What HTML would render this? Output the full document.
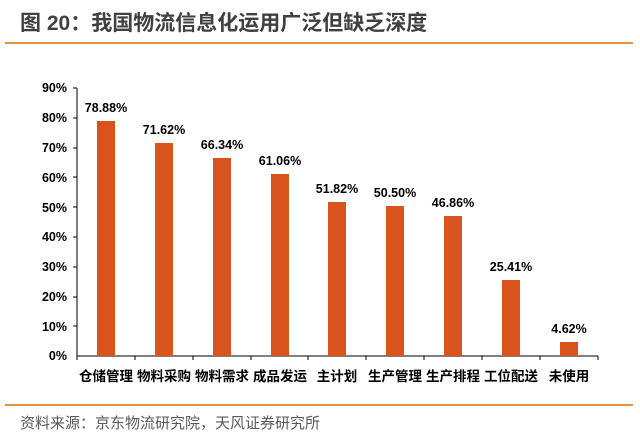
<!DOCTYPE html>
<html><head><meta charset="utf-8"><style>
body{margin:0;background:#fff;width:640px;height:442px;overflow:hidden;font-family:"Liberation Sans","Noto Sans CJK SC",sans-serif}
</style></head><body>
<svg width="640" height="442" xmlns="http://www.w3.org/2000/svg" font-family="Liberation Sans, Noto Sans CJK SC, sans-serif">
<text x="20" y="30" font-size="21" font-weight="bold" fill="#404040">图 20：我国物流信息化运用广泛但缺乏深度</text>
<line x1="5" y1="43" x2="633" y2="43" stroke="#E8913A" stroke-width="2"/>
<g font-size="12.5" font-weight="bold" fill="#000" text-anchor="end">
<text x="67" y="360">0%</text><text x="67" y="331">10%</text><text x="67" y="301">20%</text>
<text x="67" y="271">30%</text><text x="67" y="241">40%</text><text x="67" y="212">50%</text>
<text x="67" y="182">60%</text><text x="67" y="152">70%</text><text x="67" y="122">80%</text><text x="67" y="92">90%</text>
</g>
<g stroke="#000" stroke-width="1">
<line x1="77" y1="88" x2="77" y2="356"/>
<line x1="77" y1="356" x2="598" y2="356"/>
<line x1="73" y1="88" x2="77" y2="88"/><line x1="73" y1="118" x2="77" y2="118"/><line x1="73" y1="148" x2="77" y2="148"/>
<line x1="73" y1="177" x2="77" y2="177"/><line x1="73" y1="207" x2="77" y2="207"/><line x1="73" y1="237" x2="77" y2="237"/>
<line x1="73" y1="267" x2="77" y2="267"/><line x1="73" y1="297" x2="77" y2="297"/><line x1="73" y1="326" x2="77" y2="326"/>
<line x1="77" y1="356" x2="77" y2="360"/><line x1="135" y1="356" x2="135" y2="360"/><line x1="193" y1="356" x2="193" y2="360"/>
<line x1="251" y1="356" x2="251" y2="360"/><line x1="308" y1="356" x2="308" y2="360"/><line x1="366" y1="356" x2="366" y2="360"/>
<line x1="424" y1="356" x2="424" y2="360"/><line x1="482" y1="356" x2="482" y2="360"/><line x1="540" y1="356" x2="540" y2="360"/>
<line x1="598" y1="356" x2="598" y2="360"/>
</g>
<g fill="#D9531E">
<rect x="97" y="121" width="18" height="235"/>
<rect x="155" y="143" width="18" height="213"/>
<rect x="213" y="158" width="18" height="198"/>
<rect x="271" y="174" width="18" height="182"/>
<rect x="328" y="202" width="18" height="154"/>
<rect x="386" y="206" width="18" height="150"/>
<rect x="444" y="216" width="18" height="140"/>
<rect x="502" y="280" width="18" height="76"/>
<rect x="560" y="342" width="18" height="14"/>
</g>
<g font-size="12.5" font-weight="bold" fill="#000" text-anchor="middle">
<text x="106" y="112">78.88%</text><text x="164" y="134">71.62%</text><text x="222" y="149">66.34%</text>
<text x="280" y="165">61.06%</text><text x="337" y="193">51.82%</text><text x="395" y="197">50.50%</text>
<text x="453" y="207">46.86%</text><text x="511" y="271">25.41%</text><text x="569" y="333">4.62%</text>
</g>
<g font-size="13.5" font-weight="bold" fill="#000" text-anchor="middle">
<text x="106" y="381">仓储管理</text><text x="164" y="381">物料采购</text><text x="222" y="381">物料需求</text>
<text x="280" y="381">成品发运</text><text x="337" y="381">主计划</text><text x="395" y="381">生产管理</text>
<text x="453" y="381">生产排程</text><text x="511" y="381">工位配送</text><text x="569" y="381">未使用</text>
</g>
<line x1="5" y1="405" x2="633" y2="405" stroke="#E8913A" stroke-width="2"/>
<text x="20" y="428" font-size="15" fill="#595959">资料来源：京东物流研究院，天风证券研究所</text>
</svg>
</body></html>
